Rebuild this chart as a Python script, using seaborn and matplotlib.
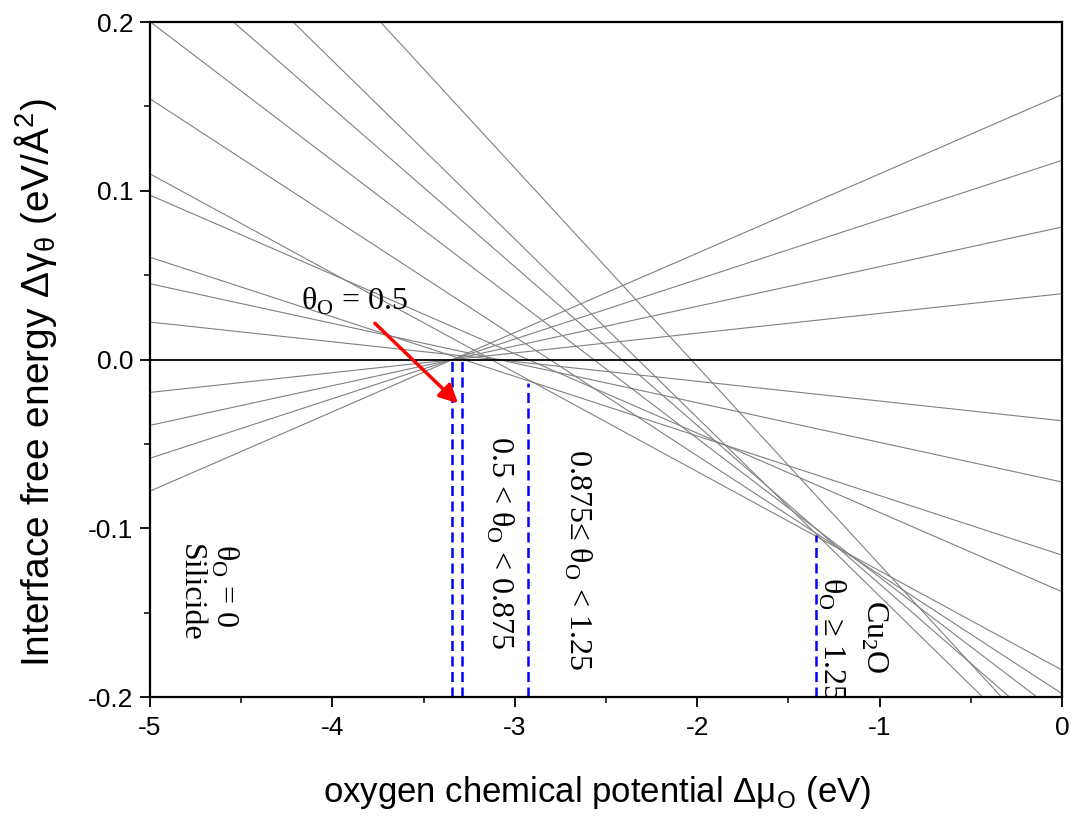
import numpy as np
import pandas as pd
import matplotlib
matplotlib.use("Agg")
import matplotlib.pyplot as plt
from matplotlib import font_manager
from matplotlib.ticker import MultipleLocator, FormatStrFormatter
import seaborn as sns

# interface free energy lines: value at dmu = 0 and slope (eV/A^2 per eV)
line_intercepts = [0.157, 0.118, 0.0785, 0.039,
                   -0.0363, -0.0726, -0.1159, -0.1376, -0.184, -0.198,
                   -0.2113, -0.227, -0.246, -0.239]
line_slopes = [0.047, 0.0353, 0.0235, 0.0117,
               -0.0117, -0.0235, -0.0353, -0.047, -0.0588, -0.0705,
               -0.0823, -0.094, -0.1058, -0.1175]
mu_range = [-5.0, 0.0]

# phase boundaries (dashed) and where they start
boundary_x = [-3.344, -3.292, -2.927, -1.347]
boundary_top = [0.0, 0.0, -0.014, -0.104]

arrow_start = (-3.767, 0.0215)
arrow_tip = (-3.311, -0.026)

rows = []
for i, (a, b) in enumerate(zip(line_intercepts, line_slopes)):
    for mu in mu_range:
        rows.append({"line": i, "mu": mu, "gamma": a + b * mu})
df = pd.DataFrame(rows)
df_ref = pd.DataFrame({"mu": mu_range, "gamma": [0.0, 0.0]})

sns.set_style("ticks")
installed = {f.name for f in font_manager.fontManager.ttflist}
if "Liberation Sans Narrow" in installed:
    sans = "Liberation Sans Narrow"
    scale = 1.2
else:
    sans = "Liberation Sans"
    scale = 1.0
plt.rcParams["font.family"] = [sans, "DejaVu Sans"]
plt.rcParams["mathtext.fontset"] = "custom"
plt.rcParams["mathtext.rm"] = sans
plt.rcParams["text.color"] = "black"
plt.rcParams["axes.labelcolor"] = "black"

fig = plt.figure(figsize=(10.73, 8.21), dpi=100)
ax = fig.add_axes([0.1398, 0.151, 0.8499, 0.8222])

sns.lineplot(data=df, x="mu", y="gamma", units="line", estimator=None,
             color="#808080", lw=0.8, ax=ax, legend=False)
sns.lineplot(data=df_ref, x="mu", y="gamma", color="black", lw=1.3, ax=ax)

ax.vlines(boundary_x, -0.2, boundary_top, colors="blue",
          linestyles=(0, (4, 2.2)), lw=1.8)

ax.annotate("", xy=arrow_tip, xytext=arrow_start,
            arrowprops=dict(arrowstyle="-|>", color="red", lw=2.5,
                            mutation_scale=28, shrinkA=0, shrinkB=0))

serif = dict(family="Liberation Serif", fontsize=23, color="black")
ax.text(-3.88, 0.0293, "θ$_\\mathregular{O}$ = 0.5", ha="center", va="baseline", **serif)
ax.text(-4.589, -0.1339, "θ$_\\mathregular{O}$ = 0", rotation=-90, ha="center", va="center", **serif)
ax.text(-4.778, -0.138, "Silicide", rotation=-90, ha="center", va="center", **serif)
ax.text(-3.082, -0.1087, "0.5 < θ$_\\mathregular{O}$ < 0.875", rotation=-90,
        ha="center", va="center", **serif)
ax.text(-2.655, -0.1188, "0.875≤ θ$_\\mathregular{O}$ < 1.25", rotation=-90,
        ha="center", va="center", **serif)
ax.text(-1.26, -0.129, "θ$_\\mathregular{O}$ ≥ 1.25", rotation=-90,
        ha="center", va="top", clip_on=True, **serif)
ax.text(-1.027, -0.164, "Cu$_\\mathregular{2}$O", rotation=-90,
        ha="center", va="center", **serif)

ax.set_xlim(-5, 0)
ax.set_ylim(-0.2, 0.2)
ax.xaxis.set_major_locator(MultipleLocator(1))
ax.xaxis.set_minor_locator(MultipleLocator(0.5))
ax.yaxis.set_major_locator(MultipleLocator(0.1))
ax.yaxis.set_minor_locator(MultipleLocator(0.05))
ax.set_xticklabels([f"{v:g}" for v in ax.get_xticks()])
ax.yaxis.set_major_formatter(FormatStrFormatter("%.1f"))

ax.tick_params(which="major", direction="out", length=7, width=1.3,
               labelsize=19 * scale, pad=5, colors="black")
ax.tick_params(which="minor", direction="out", length=4, width=1.1, colors="black")
ax.tick_params(axis="x", which="major", pad=7)
for s in ax.spines.values():
    s.set_linewidth(1.6)
    s.set_color("black")

ax.set_xlabel("oxygen chemical potential Δμ$_\\mathregular{O}$ (eV)",
              fontsize=25 * scale)
ax.xaxis.set_label_coords(0.49, -0.114)
ax.set_ylabel("Interface free energy Δγ$_\\mathregular{θ}$ (eV/Å$^\\mathregular{2}$)",
              fontsize=28 * scale)
ax.yaxis.set_label_coords(-0.1, 0.465)

fig.savefig("out.png", dpi=100)
